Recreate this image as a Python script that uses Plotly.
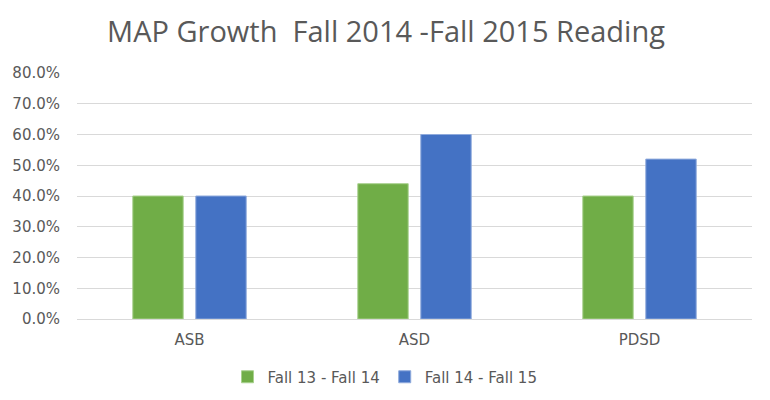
import plotly.graph_objects as go

categories = ["ASB", "ASD", "PDSD"]
fall13_14 = [0.40, 0.44, 0.40]
fall14_15 = [0.40, 0.60, 0.52]
series_names = ["Fall 13 - Fall 14", "Fall 14 - Fall 15"]
tick_vals = [0, 0.1, 0.2, 0.3, 0.4, 0.5, 0.6, 0.7, 0.8]

SMALL = "DejaVu Sans, Verdana, sans-serif"

fig = go.Figure()
fig.add_trace(go.Bar(x=categories, y=fall13_14, name=series_names[0],
                     marker=dict(color="#70AD47", line=dict(color="#A9D18E", width=1))))
fig.add_trace(go.Bar(x=categories, y=fall14_15, name=series_names[1],
                     marker=dict(color="#4472C4", line=dict(color="#8FAADC", width=1))))

fig.update_layout(
    width=770, height=400,
    margin=dict(l=77, r=18, t=73, b=81, autoexpand=False),
    paper_bgcolor="white", plot_bgcolor="white",
    barmode="group", bargap=0.44, bargroupgap=0.2,
    title=dict(text="MAP Growth  Fall 2014 -Fall 2015 Reading",
               xref="container", x=386 / 770, xanchor="center",
               yref="container", y=1 - 32 / 400, yanchor="middle",
               font=dict(family="Open Sans, Lato, sans-serif", size=29, color="#595959")),
    font=dict(family=SMALL, size=15, color="#595959"),
    xaxis=dict(showgrid=False, showline=True, linecolor="#D9D9D9", linewidth=1,
               ticks="", ticklabelstandoff=7, tickfont=dict(family=SMALL, size=15, color="#595959")),
    yaxis=dict(range=[0, 0.8], tickvals=tick_vals, tickformat=".1%",
               showgrid=True, gridcolor="#D9D9D9", gridwidth=1, zeroline=False,
               ticks="", ticklabelstandoff=16,
               tickfont=dict(family=SMALL, size=15, color="#595959")),
    legend=dict(orientation="h", xref="container", x=385 / 770, xanchor="center",
                yref="container", y=(400 - 377) / 400, yanchor="middle",
                font=dict(family=SMALL, size=15, color="#595959"),
                itemwidth=30, traceorder="normal"),
)

fig.write_html("out.html", config={"displayModeBar": False},
               post_script="document.body.style.margin='0';")
